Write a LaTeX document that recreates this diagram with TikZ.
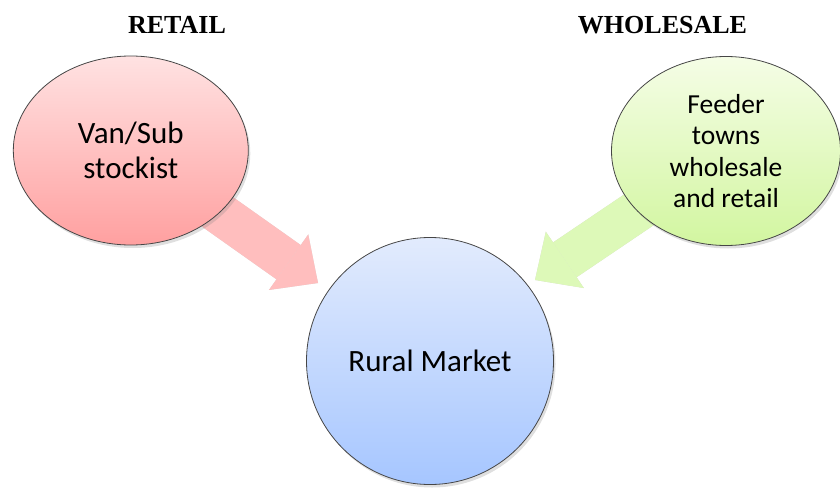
\documentclass[tikz,border=0pt]{standalone}
\usepackage{fontspec}
\setmainfont{Carlito}
\newfontfamily\titlefont{Liberation Serif}
\usetikzlibrary{shapes.geometric,arrows.meta,shadows,backgrounds}
\definecolor{pinkTop}{RGB}{255,226,226}
\definecolor{pinkBot}{RGB}{255,160,160}
\definecolor{greenTop}{RGB}{245,253,230}
\definecolor{greenBot}{RGB}{210,246,160}
\definecolor{blueTop}{RGB}{226,235,253}
\definecolor{blueBot}{RGB}{166,198,255}
\definecolor{pinkArrow}{RGB}{255,190,190}
\definecolor{greenArrow}{RGB}{221,249,184}
\definecolor{edgeGray}{RGB}{70,70,70}
\tikzset{
  bubble/.style={ellipse, draw=edgeGray, line width=0.8pt, inner sep=0pt,
    align=center, text=black,
    drop shadow={shadow xshift=2pt, shadow yshift=-3pt, opacity=0.25}},
  titletext/.style={font=\titlefont\bfseries\fontsize{26pt}{30pt}\selectfont, anchor=base},
  bigarrow/.style={line width=42pt, line cap=butt,
    -{Triangle[width=68pt,length=36pt,line width=0pt]}},
}
\begin{document}
\begin{tikzpicture}[x=1pt,y=-1pt]
\useasboundingbox (0,0) rectangle (840,487);
\node[titletext] (tr) at (177,34) {RETAIL};
\node[titletext] (tw) at (662.5,34) {WHOLESALE};
\node[bubble, minimum width=235pt, minimum height=189pt,
  top color=pinkTop, bottom color=pinkBot,
  font=\fontsize{31pt}{35pt}\selectfont] (lv) at (130.8,150.5) {Van/Sub\\stockist};
\node[bubble, minimum width=229pt, minimum height=189pt,
  top color=greenTop, bottom color=greenBot,
  font=\fontsize{27.5pt}{31.5pt}\selectfont] (fw) at (726,151) {Feeder\\towns\\wholesale\\and retail};
\node[bubble, circle, minimum size=247pt,
  top color=blueTop, bottom color=blueBot,
  font=\fontsize{31pt}{35pt}\selectfont] (rm) at (430,361) {Rural Market};
\coordinate (tipL) at (318,283);
\coordinate (tipR) at (535,280);
\begin{scope}[on background layer]
  \begin{scope}[shift={(2,3)}]
    \draw[bigarrow, black!16] (lv.center) -- (tipL);
    \draw[bigarrow, black!16] (fw.center) -- (tipR);
  \end{scope}
  \draw[bigarrow, pinkArrow] (lv.center) -- (tipL);
  \draw[bigarrow, greenArrow] (fw.center) -- (tipR);
\end{scope}
\end{tikzpicture}
\end{document}
